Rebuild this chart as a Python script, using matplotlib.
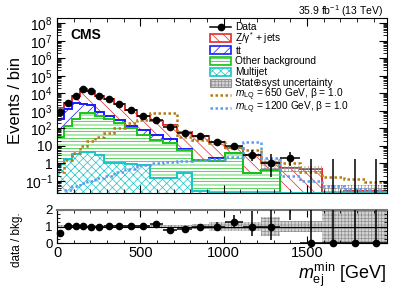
import numpy as np
import matplotlib
matplotlib.use("Agg")
import matplotlib.pyplot as plt
from matplotlib.patches import Rectangle
from matplotlib.lines import Line2D
from matplotlib.ticker import FixedLocator, FuncFormatter, MultipleLocator, NullFormatter

plt.rcParams["font.family"] = ["Liberation Sans", "DejaVu Sans"]
plt.rcParams["mathtext.fontset"] = "custom"
plt.rcParams["mathtext.rm"] = "Liberation Sans"
plt.rcParams["mathtext.it"] = "Liberation Sans:italic"
plt.rcParams["mathtext.bf"] = "Liberation Sans:bold"
plt.rcParams["hatch.linewidth"] = 0.5

# bin edges in GeV
edges = np.array([0, 40, 90, 135, 180, 225, 280, 340, 405, 480, 555, 635, 720,
                  810, 910, 1010, 1115, 1225, 1340, 1460, 1590, 1720, 1850, 1980])

data = np.array([820, 2800, 7300, 17500, 14000, 7300, 4750, 2450, 1100, 530, 300,
                 115, 52, 34, 16, 10, 3, 1, 2, 0, 0, 0, 0])

multijet = np.array([0.9, 1.8, 3.5, 4.5, 4.2, 3.0, 1.1, 1.0, 0.95, 0.75, 0.15, 0.15,
                     0.27, 0.025, 0, 0, 0, 0, 0, 0, 0, 0, 0])
other = np.array([30, 138, 356, 695, 696, 527, 359, 189, 109, 38, 20, 15,
                  5.2, 1.5, 1.3, 3.7, 0.27, 0.4, 0.015, 0, 0, 0, 0.022])
ttbar = np.array([330, 1160, 2540, 1900, 1300, 290, 170, 90, 30, 36, 19, 10,
                  1.5, 0.1, 0.7, 0, 0, 0, 0, 0, 0, 0, 0])
zjets = np.array([1040, 1500, 4400, 14400, 12000, 6480, 4170, 2120, 960, 455, 221, 120,
                  55, 32.4, 14, 4, 2.83, 0.63, 0.5, 0.5, 0.015, 0.027, 0.005])
rel_unc = np.array([0.08, 0.08, 0.08, 0.08, 0.08, 0.08, 0.08, 0.08, 0.08, 0.08, 0.1, 0.1,
                    0.12, 0.15, 0.3, 0.3, 0.3, 0.6, 0.35, 0.35, 2.7, 1.0, 1.0])

sig650 = np.array([0.3, 1.5, 4, 10, 20, 30, 55, 100, 190, 280, 750, 750,
                   31, 22, 14, 9, 5.5, 1.2, 1.0, 0.32, 0.17, 0.12, 0.085])
sig1200 = np.array([0.01, 0.03, 0.05, 0.07, 0.1, 0.14, 0.2, 0.3, 0.5, 0.75, 1.0, 1.2,
                    1.4, 1.5, 1.8, 2.2, 16, 2.0, 0.18, 0.1, 0.05, 0.035, 0.03])

# Garwood intervals for small counts, sqrt(n) otherwise
garwood_lo = {0: 0.0, 1: 0.83, 2: 1.29, 3: 1.63}
garwood_hi = {0: 1.84, 1: 2.30, 2: 2.64, 3: 2.92}
err_lo = np.array([garwood_lo.get(n, np.sqrt(n)) for n in data])
err_hi = np.array([garwood_hi.get(n, np.sqrt(n)) for n in data])

RED = "#e8262b"
BLUE = "#1a1aff"
GREEN = "#19c319"
CYAN = "#18c6c6"
GRAY = "#8f8f8f"
BROWN = "#b27c12"
LBLUE = "#5a9cf2"
YMIN, YMAX = 0.02, 2e8
XMAX = 1980

centers = 0.5 * (edges[1:] + edges[:-1])
halfw = 0.5 * (edges[1:] - edges[:-1])

cum_mj = multijet
cum_other = cum_mj + other
cum_tt = cum_other + ttbar
total = cum_tt + zjets

fig = plt.figure(figsize=(4.07, 2.92), dpi=100)
ax = fig.add_axes([57 / 407, 1 - 193 / 292, 330 / 407, 175 / 292])
rax = fig.add_axes([57 / 407, 1 - 243 / 292, 330 / 407, 33 / 292])

ax.set_yscale("log")
comps = [(total, RED, "\\\\\\"), (cum_tt, BLUE, "///"),
         (cum_other, GREEN, "-----"), (cum_mj, CYAN, "xxxx")]
for vals, col, h in comps:
    ax.stairs(np.maximum(vals, 1e-4), edges, baseline=1e-4, fill=True,
              facecolor="white", edgecolor=col, hatch=h, linewidth=0)
for vals, col, h in comps:
    ax.stairs(np.maximum(vals, YMIN), edges, baseline=None, color=col, linewidth=1.4)

ax.stairs(total * (1 + rel_unc), edges, baseline=np.maximum(total * (1 - rel_unc), 1e-4),
          fill=True, facecolor="none", edgecolor=GRAY, hatch="+++++", linewidth=0)

ax.stairs(sig650, edges, baseline=None, color=BROWN, linewidth=1.8, linestyle=(0, (1, 1)))
ax.stairs(sig1200, edges, baseline=None, color=LBLUE, linewidth=1.8, linestyle=(0, (1, 1)))

ax.errorbar(centers, data, xerr=halfw, yerr=[err_lo, err_hi], fmt="o", color="k",
            ms=4.5, lw=1.1, capsize=0, zorder=10)

ax.set_xlim(0, XMAX)
ax.set_ylim(YMIN, YMAX)
ax.xaxis.set_major_locator(MultipleLocator(500))
ax.xaxis.set_minor_locator(MultipleLocator(100))
decades = 10.0 ** np.arange(-2, 9)
ax.yaxis.set_major_locator(FixedLocator(decades[1:]))
minor_ticks = [d * m for d in decades for m in range(2, 10) if YMIN < d * m < YMAX]
ax.yaxis.set_minor_locator(FixedLocator(minor_ticks))
ax.yaxis.set_minor_formatter(NullFormatter())


def log_fmt(v, pos):
    e = int(round(np.log10(v)))
    if e == 0:
        return "1"
    if e == 1:
        return "10"
    return r"$10^{%d}$" % e


ax.yaxis.set_major_formatter(FuncFormatter(log_fmt))
ax.tick_params(which="both", direction="in", top=True, right=True, labelbottom=False,
               labelsize=10, pad=3)
ax.tick_params(which="major", length=6, width=0.8)
ax.tick_params(which="minor", length=3, width=0.6)

ax.text(0.04, 0.903, "CMS", transform=ax.transAxes, fontsize=10, fontweight="bold",
        va="center", ha="left")
fig.text(383 / 407, 1 - 11 / 292, r"35.9 fb$^{-1}$ (13 TeV)", fontsize=7.5,
         ha="right", va="center")
fig.text(16 / 407, 1 - 100 / 292, "Events / bin", rotation=90, fontsize=12,
         ha="center", va="center")

# legend drawn by hand
legend_rows = [
    ("data", "Data", None, None),
    ("box", r"Z/γ$^{*}$ + jets", RED, "\\\\\\"),
    ("box", r"t$\bar{\mathrm{t}}$", BLUE, "///"),
    ("box", "Other background", GREEN, "-----"),
    ("box", "Multijet", CYAN, "xxxx"),
    ("unc", "Stat⊕syst uncertainty", GRAY, "+++++"),
    ("line", r"$m_{\mathrm{LQ}}$ = 650 GeV, β = 1.0", BROWN, None),
    ("line", r"$m_{\mathrm{LQ}}$ = 1200 GeV, β = 1.0", LBLUE, None),
]
x0 = (210 - 57) / 330
bw = 21 / 330
bh = 8 / 175
tx = (235 - 57) / 330
row_y = [26.5, 37.8, 50.0, 61.0, 72, 83.2, 95.0, 108.2]
for (kind, label, col, h), yp in zip(legend_rows, row_y):
    yc = (193 - yp) / 175
    if kind == "data":
        ax.add_line(Line2D([x0, x0 + bw], [yc, yc], color="k", lw=1.1,
                           transform=ax.transAxes))
        ax.add_line(Line2D([x0 + bw / 2], [yc], color="k", marker="o", ms=4.5,
                           transform=ax.transAxes))
    elif kind == "box":
        ax.add_patch(Rectangle((x0, yc - bh / 2), bw, bh, facecolor="white", edgecolor=col,
                               hatch=h, lw=1.2, transform=ax.transAxes))
    elif kind == "unc":
        ax.add_patch(Rectangle((x0, yc - bh / 2), bw, bh, facecolor="#d4d4d4",
                               edgecolor=col, hatch=h, lw=0.8, transform=ax.transAxes))
    else:
        ax.add_line(Line2D([x0, x0 + bw], [yc, yc], color=col, lw=1.8,
                           linestyle=(0, (1, 1)), transform=ax.transAxes))
    ax.text(tx, yc, label, transform=ax.transAxes, fontsize=7.3, va="center", ha="left")

# ratio panel
ratio = np.where(total > 0, data / total, 0)
r_lo = err_lo / total
r_hi = err_hi / total
rax.stairs(np.minimum(1 + rel_unc, 2.5), edges, baseline=np.maximum(1 - rel_unc, -0.5),
           fill=True, facecolor="#d4d4d4", edgecolor=GRAY, hatch="+++++", linewidth=0)
rax.axhline(1, color="k", lw=0.8)
rax.errorbar(centers, ratio, xerr=halfw, yerr=[r_lo, r_hi], fmt="none", ecolor="k",
             lw=1.1, capsize=0, zorder=10)
inside = ratio <= 2
rax.plot(centers[inside], ratio[inside], "o", color="k", ms=4.5, clip_on=False, zorder=11)

rax.set_xlim(0, XMAX)
rax.set_ylim(0, 2)
rax.xaxis.set_major_locator(MultipleLocator(500))
rax.xaxis.set_minor_locator(MultipleLocator(100))
rax.yaxis.set_major_locator(FixedLocator([0, 1, 2]))
rax.yaxis.set_minor_locator(MultipleLocator(0.25))
rax.tick_params(which="both", direction="in", top=True, right=True)
rax.tick_params(axis="x", pad=2, labelsize=10.5)
rax.tick_params(axis="y", pad=3, labelsize=9.5)
rax.tick_params(which="major", length=5, width=0.8)
rax.tick_params(which="minor", length=2.5, width=0.6)
rax.spines["top"].set_color("#777777")
rax.spines["top"].set_linewidth(1.5)

fig.text(17 / 407, 1 - 240 / 292, "data / bkg.", rotation=90, fontsize=8.5,
         ha="center", va="center")
fig.text(386 / 407, 1 - 275 / 292, r"$m_{\mathrm{ej}}^{\mathrm{min}}$ [GeV]", fontsize=13,
         ha="right", va="center")

fig.savefig("out.png", dpi=100)
